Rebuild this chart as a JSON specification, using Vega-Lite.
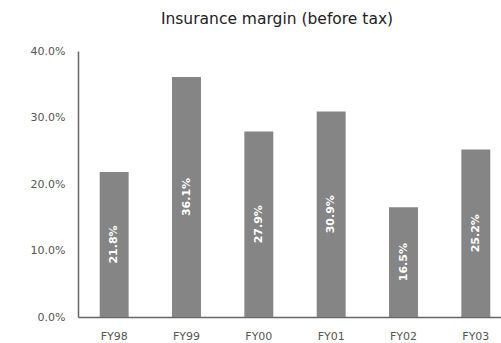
{
  "$schema": "https://vega.github.io/schema/vega-lite/v6.json",
  "width": 434,
  "height": 266,
  "autosize": "none",
  "padding": {"left": 78, "top": 51, "right": 0, "bottom": 26},
  "background": "white",
  "title": {
    "text": "Insurance margin (before tax)",
    "anchor": "middle",
    "dx": -18,
    "offset": 18,
    "font": "DejaVu Sans",
    "fontSize": 15.5,
    "fontWeight": "normal",
    "color": "#222"
  },
  "config": {
    "view": {"stroke": null},
    "axis": {
      "grid": false,
      "ticks": false,
      "labelFont": "DejaVu Sans",
      "labelFontSize": 11,
      "labelColor": "#555",
      "domainColor": "#666",
      "domainWidth": 1.5,
      "title": null
    }
  },
  "data": {
    "values": [
      {"year": "FY98", "margin": 0.218},
      {"year": "FY99", "margin": 0.361},
      {"year": "FY00", "margin": 0.279},
      {"year": "FY01", "margin": 0.309},
      {"year": "FY02", "margin": 0.165},
      {"year": "FY03", "margin": 0.252}
    ]
  },
  "encoding": {
    "x": {
      "field": "year",
      "type": "nominal",
      "sort": null,
      "scale": {"paddingInner": 0.6, "paddingOuter": 0.3},
      "axis": {"labelAngle": 0, "labelPadding": 13}
    }
  },
  "layer": [
    {
      "mark": {"type": "bar", "color": "#858585"},
      "encoding": {
        "y": {
          "field": "margin",
          "type": "quantitative",
          "scale": {"domain": [0, 0.4]},
          "axis": {"format": ".1%", "values": [0, 0.1, 0.2, 0.3, 0.4], "labelPadding": 13}
        }
      }
    },
    {
      "transform": [{"calculate": "datum.margin / 2", "as": "mid"}],
      "mark": {
        "type": "text",
        "angle": 270,
        "color": "white",
        "font": "DejaVu Sans",
        "fontWeight": "bold",
        "fontSize": 11,
        "align": "center",
        "baseline": "middle"
      },
      "encoding": {
        "y": {"field": "mid", "type": "quantitative", "scale": {"domain": [0, 0.4]}},
        "text": {"field": "margin", "type": "quantitative", "format": ".1%"}
      }
    }
  ]
}
